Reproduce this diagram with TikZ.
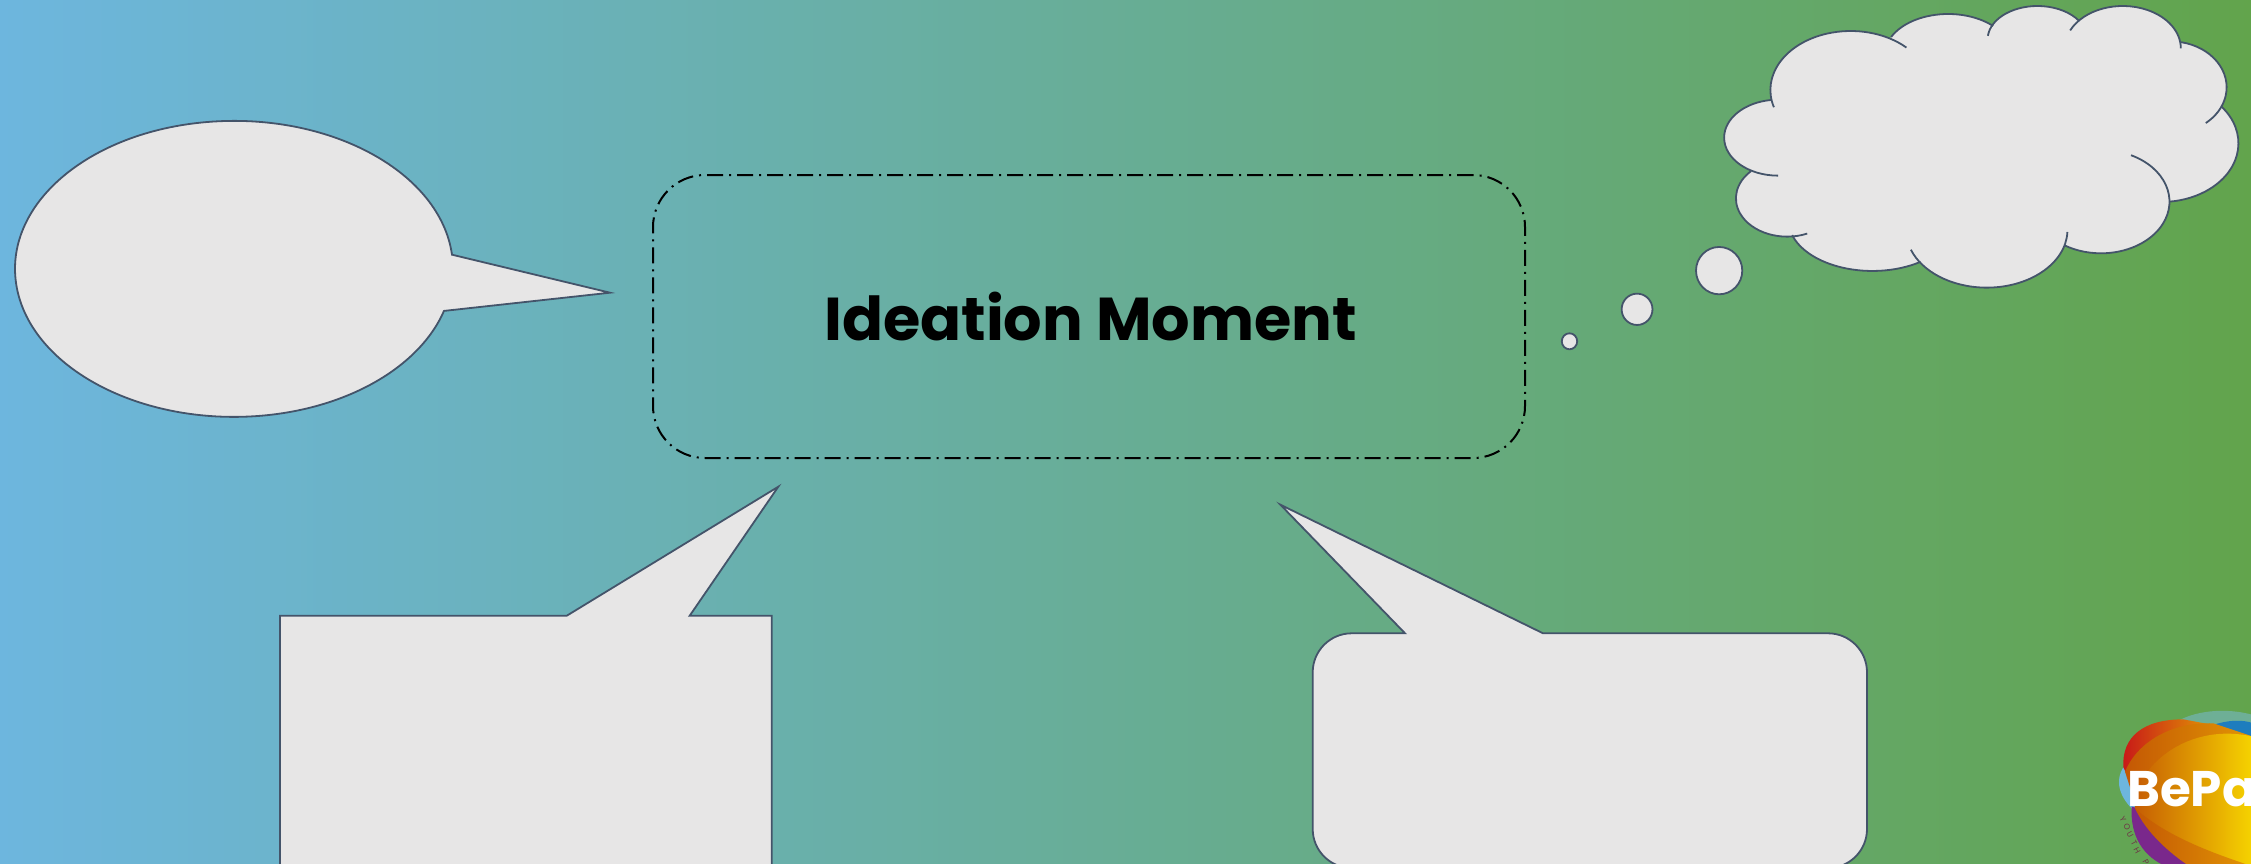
\documentclass[tikz,border=0pt]{standalone}
\usepackage{fontspec}
\setmainfont{Poppins}
\definecolor{skyleft}{RGB}{109,182,222}
\definecolor{greenright}{RGB}{98,164,76}
\definecolor{bubblefill}{RGB}{231,230,230}
\definecolor{bubbleline}{RGB}{68,84,106}
\definecolor{logoleft}{RGB}{196,88,4}
\definecolor{logoright}{RGB}{246,212,0}
\definecolor{logomid}{RGB}{226,150,4}
\definecolor{logored}{RGB}{200,24,24}
\definecolor{logoviolet}{RGB}{122,40,140}
\definecolor{logoteal}{RGB}{110,175,150}
\definecolor{logoblue}{RGB}{30,125,190}
\definecolor{logotext}{RGB}{110,50,70}
\begin{document}
\begin{tikzpicture}[x=1pt,y=1pt,yscale=-1,
  bubble/.style={draw=bubbleline,fill=bubblefill,line width=1.8pt},
  ideabox/.style={draw=black,line width=2pt,rounded corners=52pt,
    dash pattern=on 16pt off 6pt on 2pt off 6pt,inner sep=0pt,
    minimum width=872pt,minimum height=283pt}]
\useasboundingbox (0,0) rectangle (2251,864);
\clip (0,0) rectangle (2251,864);
% Draw the background
\shade[left color=skyleft,right color=greenright] (0,0) rectangle (2251,864);

% Draw the three speech bubbles
\draw[bubble] (452,254.7) arc (-5.5:-343.5:219 and 148) -- (610,292.7) -- cycle;
\draw[bubble] (280,880) -- (280,615.7) -- (566.8,615.7) -- (778.3,486.7) -- (689.7,615.7) -- (771.7,615.7) -- (771.7,880);
\draw[bubble] (1312.7,672.3) arc (180:270:39) -- (1405,633.3) -- (1280.4,504.7) -- (1543,633.3) -- (1828,633.3)
  arc (270:360:39) -- (1867,829) arc (0:90:39) -- (1351.7,868) arc (90:180:39) -- cycle;

% Draw the middle box
\node[ideabox] (idea) at (1089,316.5) {};
\node[anchor=base,inner sep=0pt,font=\fontsize{60.5}{60.5}\selectfont\bfseries] (title) at (1090.5,340) {Ideation Moment};

% Draw the cloud
\begin{scope}[shift={(1540,0)},xscale=0.4535,yscale=0.3333]
\fill[bubblefill] (520,250) -- (800,120) -- (1300,100) -- (1450,300) -- (1350,600) -- (1150,730)
  -- (850,780) -- (580,690) -- (500,500) -- cycle;
\foreach \cx/\cy/\rx/\ry/\sa/\ea in {685/270/177/177/163/314,900/165/140/123/206/315,1097/118/110/100/186/326,
    1285/145/128/127/205/360,1390/262/124/138/281/411,1370/430/170/176/321/444,1237/605/151/155/-64/122,
    985/690/178/173/2/160,733/661/185/152/55/163,545/595/113/115/67/225,525/413/119/114/90/263} {
  \fill[bubblefill] (\cx,\cy) ellipse ({\rx} and {\ry});
}
\foreach \cx/\cy/\rx/\ry/\sa/\ea in {685/270/177/177/163/314,900/165/140/123/206/315,1097/118/110/100/186/326,
    1285/145/128/127/205/360,1390/262/124/138/281/411,1370/430/170/176/321/444,1237/605/151/155/-64/122,
    985/690/178/173/2/160,733/661/185/152/55/163,545/595/113/115/67/225,525/413/119/114/90/263} {
  \draw[bubbleline,line width=1.8pt] ([shift={(\sa:{\rx} and {\ry})}]\cx,\cy) arc (\sa:\ea:{\rx} and {\ry});
}
% Draw the small puffs
\foreach \cx/\cy/\rx/\ry in {395/812/51/71,214/928/34/47,65/1024/17/24}
  \draw[bubble] (\cx,\cy) ellipse ({\rx} and {\ry});
\end{scope}

% Draw the logo
\begin{scope}[shift={(2080,680)},scale=0.3333]
\fill[skyleft] (130,262) .. controls (105,300) and (115,350) .. (165,395) -- (220,300) -- cycle;
\fill[logoteal] (290,125) .. controls (340,95) and (430,80) .. (520,105) -- (520,260) -- cycle;
\fill[logoblue] (400,135) .. controls (440,120) and (490,118) .. (520,130) -- (520,260) -- cycle;
\shade[left color=logored,right color=logomid] (130,262) .. controls (125,170) and (190,118) .. (310,118)
  -- (400,135) -- (200,400) -- cycle;
\fill[logoviolet] (155,380) .. controls (150,470) and (190,530) .. (260,560) -- (420,560) -- (320,420) -- cycle;
\shade[left color=logoleft,right color=logomid] (135,275) .. controls (170,190) and (270,125) .. (400,130)
  -- (520,170) -- (520,400) -- (175,400) -- cycle;
\shade[left color=logoleft,right color=logoright] (165,385) .. controls (150,290) and (300,120) .. (520,170)
  -- (520,560) -- (430,560) .. controls (340,520) and (230,470) .. (165,385) -- cycle;
\shade[left color=logoleft,right color=logomid] (165,385) .. controls (200,460) and (270,520) .. (330,560)
  -- (520,560) .. controls (400,520) and (260,470) .. (165,385) -- cycle;
\end{scope}
\node[anchor=base west,text=white,inner sep=0pt,font=\fontsize{50}{50}\selectfont\bfseries] (logoword) at (2127,806) {BePa};
\foreach \i/\ch/\px/\py in {1/Y/2123/819,2/O/2127/827,3/U/2130/835,4/T/2134/843,5/H/2137/851,6/P/2146/862}
  \node[text=logotext,inner sep=0pt,rotate=-62,font=\fontsize{8}{8}\selectfont] (youth\i) at (\px,\py) {\ch};
\end{tikzpicture}
\end{document}
